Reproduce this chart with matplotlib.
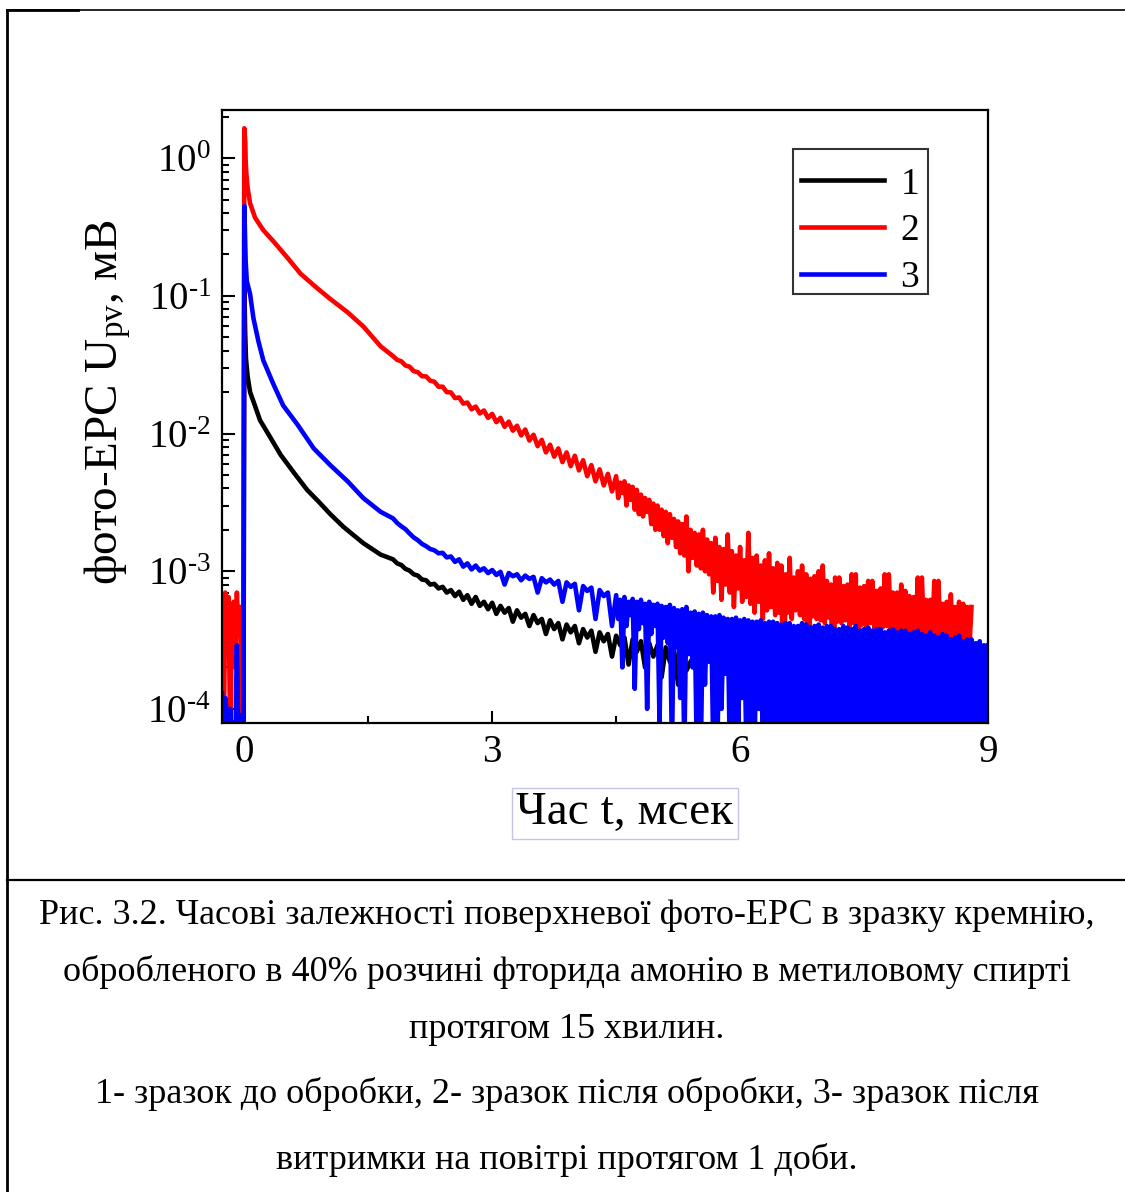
import numpy as np
import matplotlib
matplotlib.use('Agg')
import matplotlib.pyplot as plt
from matplotlib.lines import Line2D
from matplotlib.patches import Rectangle
from matplotlib.ticker import FixedLocator, LogLocator, NullFormatter

plt.rcParams['font.family'] = ['Liberation Serif', 'DejaVu Serif']
plt.rcParams['mathtext.fontset'] = 'custom'
plt.rcParams['mathtext.rm'] = 'Liberation Serif'
plt.rcParams['mathtext.it'] = 'Liberation Serif:italic'
plt.rcParams['axes.unicode_minus'] = False

# values in uV (1e-3 mV), time in ms
dt_a = 0.05   # sampling of the first part of the tails
dt_b = 0.025  # sampling of the noisy end of the tails

t_pre = [-0.27, -0.25, -0.23, -0.21, -0.19, -0.17, -0.15, -0.13, -0.11, -0.09, -0.07, -0.05, -0.03, -0.01]

# curve 1 - before treatment
t1_fast = [0.0, 0.01, 0.02, 0.04, 0.07, 0.12, 0.19, 0.30, 0.44, 0.60, 0.76, 0.90, 1.04, 1.20, 1.44, 1.65]
u1_pre = [0.05] * 14
u1_fast = [125, 55, 35, 26, 20, 16.5, 12.5, 9.7, 7.0, 5.2, 3.9, 3.2, 2.6, 2.1, 1.6, 1.32]
u1_tail_a = [1.22, 1.14, 1.11, 1.04, 1.01, 0.95, 0.93, 0.87, 0.86, 0.80,
             0.81, 0.75, 0.77, 0.70, 0.73, 0.66, 0.71, 0.62, 0.67, 0.58,
             0.65, 0.56, 0.60, 0.53, 0.59, 0.49, 0.56, 0.50, 0.54, 0.43,
             0.52, 0.46, 0.49, 0.40, 0.48, 0.42, 0.45, 0.35, 0.44, 0.38,
             0.42, 0.32, 0.41, 0.36, 0.40, 0.30, 0.38, 0.33, 0.37, 0.26,
             0.36, 0.31, 0.35, 0.24, 0.34, 0.29, 0.33, 0.21, 0.32, 0.26,
             0.31, 0.20, 0.30, 0.24, 0.29, 0.17, 0.28, 0.22, 0.27, 0.15,
             0.26, 0.19, 0.22]
u1_tail_b = []

# curve 2 - after treatment
t2_fast = [0.0, 0.012, 0.016, 0.024, 0.04, 0.07, 0.13, 0.23, 0.35, 0.52, 0.68, 0.88, 1.04, 1.25, 1.44, 1.65]
u2_pre = [0.55, 0.05, 0.7, 0.3, 0.65, 0.05, 0.45, 0.6, 0.2, 0.7, 0.35, 0.55, 0.05, 0.5]
u2_fast = [1650, 1300, 970, 780, 610, 470, 370, 300, 250, 190, 145, 114, 95, 76, 60, 43]
u2_tail_a = [36.5, 34.3, 33.5, 31.2, 30.6, 28.4, 27.9, 26.1, 26.0, 24.2,
             23.8, 21.9, 21.9, 20.0, 19.9, 18.1, 18.3, 16.5, 16.8, 15.0,
             15.7, 14.0, 14.7, 13.0, 13.9, 12.1, 13.0, 11.2, 12.2, 10.5,
             11.4, 9.7, 10.7, 8.9, 9.8, 8.1, 9.0, 7.3, 8.3, 6.8,
             7.8, 6.2, 7.3, 5.8, 6.9, 5.4, 6.4, 4.9, 5.9, 4.5,
             5.5, 4.2, 5.1, 3.8]
u2_tail_b = [4.9, 3.4, 4.4, 3.7, 4.5, 3.0, 4.2, 3.3, 4.1, 2.8, 3.9, 2.6,
             3.6, 2.5, 3.4, 2.7, 3.3, 2.2, 3.1, 2.0, 3.0, 2.0, 2.8, 1.8,
             2.7, 1.6, 2.6, 1.75, 2.4, 1.5, 2.3, 1.35, 2.2, 1.3, 2.5, 1.0,
             2.0, 1.25, 1.9, 1.1, 1.85, 1.05, 2.0, 1.0, 1.7, 0.95, 1.6, 0.7,
             1.75, 0.85, 1.5, 0.62, 1.45, 0.8, 1.85, 0.7, 1.4, 0.55, 1.3, 0.75,
             1.5, 0.6, 1.2, 0.65, 1.9, 0.58, 1.25, 0.5, 1.3, 0.6, 1.1, 0.45,
             1.2, 0.52, 1.35, 0.55, 1.05, 0.48, 1.15, 0.5, 1.1, 0.05, 0.95, 0.5,
             1.25, 0.45, 0.9, 0.52, 1.0, 0.48, 1.1, 0.45, 0.95, 0.05, 0.88, 0.47,
             0.92, 0.45, 1.0, 0.44, 1.1, 0.42, 0.85, 0.46, 0.8, 0.05, 0.9, 0.43,
             0.9, 0.42, 0.78, 0.44, 0.8, 0.40, 0.95, 0.42, 0.95, 0.05, 0.76, 0.41,
             0.78, 0.40, 0.85, 0.42, 0.85, 0.38, 0.72, 0.05, 0.75, 0.39, 0.95, 0.40,
             0.95, 0.38, 0.7, 0.37, 0.7, 0.36, 0.8, 0.05, 0.72, 0.37, 0.66, 0.36,
             0.65, 0.35, 0.9, 0.34, 0.9, 0.35, 0.62, 0.05, 0.62, 0.33, 0.85, 0.34,
             0.85, 0.32, 0.58, 0.33, 0.6, 0.31, 0.68, 0.30, 0.55, 0.30, 0.6, 0.29,
             0.58, 0.29, 0.55, 0.28, 0.55]

# curve 3 - after 1 day in air
t3_fast = [0.0, 0.008, 0.016, 0.03, 0.07, 0.11, 0.17, 0.23, 0.35, 0.47, 0.64, 0.84, 1.04, 1.25, 1.44, 1.65]
u3_pre = [0.13, 0.05, 0.12, 0.09, 0.05, 0.1, 0.05, 0.08, 0.05, 0.29, 0.05, 0.09, 0.05, 0.08]
u3_fast = [450, 280, 180, 128, 103, 69, 47, 34, 23, 16, 11.7, 7.8, 5.9, 4.5, 3.4, 2.7]
u3_tail_a = [2.42, 2.24, 2.12, 2.02, 1.88, 1.76, 1.68, 1.58, 1.52, 1.45,
             1.42, 1.35, 1.36, 1.26, 1.28, 1.17, 1.22, 1.08, 1.14, 1.03,
             1.10, 1.01, 1.05, 0.97, 1.02, 0.94, 0.99, 0.80, 0.97, 0.92,
             0.95, 0.86, 0.93, 0.88, 0.91, 0.70, 0.89, 0.83, 0.87, 0.80,
             0.85, 0.60, 0.83, 0.77, 0.81, 0.52, 0.78, 0.72, 0.76, 0.45,
             0.73, 0.66, 0.70, 0.40]
u3_tail_b = [0.67, 0.45, 0.62, 0.20, 0.65, 0.40, 0.60, 0.48, 0.63, 0.14, 0.60, 0.38,
             0.62, 0.42, 0.58, 0.10, 0.60, 0.35, 0.57, 0.40, 0.58, 0.08, 0.56, 0.33,
             0.55, 0.30, 0.57, 0.05, 0.54, 0.28, 0.52, 0.12, 0.53, 0.05, 0.55, 0.25,
             0.50, 0.20, 0.51, 0.05, 0.49, 0.05, 0.50, 0.15, 0.48, 0.22, 0.47, 0.05,
             0.47, 0.05, 0.48, 0.10, 0.46, 0.18, 0.45, 0.05, 0.45, 0.05, 0.46, 0.05,
             0.44, 0.12, 0.45, 0.05, 0.44, 0.05, 0.43, 0.05, 0.43, 0.10, 0.44, 0.05,
             0.42, 0.05, 0.43, 0.05, 0.43, 0.05, 0.42, 0.08, 0.41, 0.05, 0.42, 0.05,
             0.42, 0.05, 0.40, 0.05, 0.40, 0.05, 0.42, 0.05, 0.41, 0.05, 0.39, 0.05,
             0.40, 0.05, 0.41, 0.05, 0.39, 0.05, 0.40, 0.05, 0.40, 0.05, 0.38, 0.05,
             0.38, 0.05, 0.40, 0.05, 0.39, 0.05, 0.38, 0.05, 0.40, 0.05, 0.37, 0.05,
             0.38, 0.05, 0.39, 0.05, 0.37, 0.05, 0.38, 0.05, 0.38, 0.05, 0.36, 0.05,
             0.37, 0.05, 0.38, 0.05, 0.36, 0.05, 0.37, 0.05, 0.37, 0.05, 0.35, 0.05,
             0.36, 0.05, 0.37, 0.05, 0.35, 0.05, 0.34, 0.05, 0.36, 0.05, 0.34, 0.05,
             0.33, 0.05, 0.35, 0.05, 0.34, 0.05, 0.32, 0.05, 0.33, 0.05, 0.34, 0.05,
             0.31, 0.05, 0.32, 0.05, 0.32, 0.05, 0.30, 0.05, 0.31, 0.05, 0.29, 0.05,
             0.29]

labels = ['1', '2', '3']
colors = ['black', '#ff0000', '#0000ff']
x_ticks = [0, 3, 6, 9]
y_ticks = [1e-4, 1e-3, 1e-2, 1e-1, 1e0]
y_tick_labels = ['10$^{\\text{-4}}$', '10$^{\\text{-3}}$', '10$^{\\text{-2}}$',
                 '10$^{\\text{-1}}$', '10$^{\\text{0}}$']

caption = ['Рис. 3.2. Часові залежності поверхневої фото-ЕРС в зразку кремнію,',
           'обробленого в 40% розчині фторида амонію в метиловому спирті',
           'протягом 15 хвилин.',
           '1- зразок до обробки, 2- зразок після обробки, 3- зразок після',
           'витримки на повітрі протягом 1 доби.']


def series(t_fast, pre, fast, tail_a, tail_b):
    ta = 1.8 + dt_a * np.arange(len(tail_a))
    tb = 1.8 + dt_a * len(tail_a) + dt_b * np.arange(len(tail_b))
    t = np.concatenate([t_pre, t_fast, ta, tb])
    u = np.concatenate([pre, fast, tail_a, tail_b]) / 1000.0
    return t, u


W, H = 1125, 1192
fig = plt.figure(figsize=(W / 100, H / 100), dpi=100)
ax = fig.add_axes([222 / W, 1 - 723 / H, 766 / W, 613 / H])

data = [series(t1_fast, u1_pre, u1_fast, u1_tail_a, u1_tail_b),
        series(t2_fast, u2_pre, u2_fast, u2_tail_a, u2_tail_b),
        series(t3_fast, u3_pre, u3_fast, u3_tail_a, u3_tail_b)]
handles = []
for (t, u), c, lab in zip(data, colors, labels):
    h, = ax.plot(t, u, color=c, lw=3.3, label=lab)
    handles.append(h)

ax.set_yscale('log')
ax.set_xlim(-0.27, 9.0)
ax.set_ylim(7.9e-5, 2.24)
ax.set_xticks(x_ticks)
ax.xaxis.set_minor_locator(FixedLocator([1.5, 4.5, 7.5]))
ax.set_yticks(y_ticks, y_tick_labels)
ax.yaxis.set_minor_locator(LogLocator(base=10, subs=np.arange(2, 10), numticks=10))
ax.yaxis.set_minor_formatter(NullFormatter())
ax.tick_params(which='both', direction='in', width=1.5, top=False, right=False)
ax.tick_params(which='major', length=9, labelsize=28, pad=8)
ax.tick_params(which='minor', length=5)
for s in ax.spines.values():
    s.set_linewidth(1.6)

fig.text(108 / W, 1 - 402 / H, 'фото-ЕРС $\\mathrm{U_{pv}}$, мВ', rotation=90,
         fontsize=34, ha='center', va='center')
fig.text(625 / W, 1 - 813 / H, 'Час t, мсек', fontsize=34, ha='center', va='center',
         bbox=dict(facecolor='white', edgecolor='#c4c4e4', linewidth=1, pad=3))

# legend box drawn separately so the entries can sit where they are in the original
ax.add_patch(Rectangle((571 / 766, 429 / 613), 135 / 766, 145 / 613, transform=ax.transAxes,
                       facecolor='white', edgecolor='#333333', lw=1.5, zorder=4))
leg = ax.legend(handles=handles, loc='upper left', bbox_to_anchor=(564 / 766, 571 / 613),
                borderaxespad=0, fontsize=27, handlelength=2.2, handletextpad=0.45,
                labelspacing=0.33, borderpad=0.4, frameon=False)
leg.set_zorder(5)

for i, line in enumerate(caption):
    fig.text(567 / W, 1 - [915, 972, 1030, 1094, 1160][i] / H, line, fontsize=26,
             ha='center', va='center')

# page frame
fig.add_artist(Line2D([7 / W, 1.0], [1 - 10 / H, 1 - 10 / H], color='black', lw=1.2))
fig.add_artist(Line2D([7 / W, 78 / W], [1 - 10 / H, 1 - 10 / H], color='black', lw=2))
fig.add_artist(Line2D([7 / W, 7 / W], [1 - 10 / H, 0.0], color='black', lw=2))
fig.add_artist(Line2D([7 / W, 1.0], [1 - 880 / H, 1 - 880 / H], color='black', lw=1.6))

fig.savefig('out.png', dpi=100)
